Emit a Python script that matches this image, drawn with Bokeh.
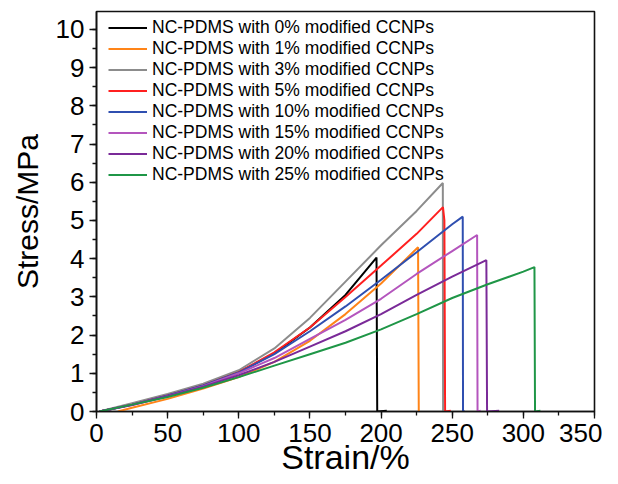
from bokeh.plotting import figure
from bokeh.models import Range1d, SingleIntervalTicker, Legend, LegendItem
from bokeh.embed import file_html
from bokeh.resources import INLINE

labels = ["NC-PDMS with 0% modified CCNPs", "NC-PDMS with 1% modified CCNPs",
          "NC-PDMS with 3% modified CCNPs", "NC-PDMS with 5% modified CCNPs",
          "NC-PDMS with 10% modified CCNPs", "NC-PDMS with 15% modified CCNPs",
          "NC-PDMS with 20% modified CCNPs", "NC-PDMS with 25% modified CCNPs"]
colors = ["#000000", "#ff8418", "#8c8c8c", "#ff2020", "#2f4fb0", "#b455bd", "#7a2a98", "#1f9647"]

strain_0 = [2, 10, 25, 50, 75, 100, 125, 150, 175, 196.8, 197.3, 204]
stress_0 = [0, 0.06, 0.18, 0.42, 0.68, 1.03, 1.52, 2.2, 3.05, 4.03, 0.0, 0.02]
strain_1 = [15, 25, 50, 75, 100, 125, 150, 175, 200, 226, 226.5, 227]
stress_1 = [0, 0.1, 0.33, 0.6, 0.9, 1.3, 1.85, 2.55, 3.35, 4.3, 0.0, 0.0]
strain_3 = [2, 25, 50, 75, 100, 125, 150, 175, 200, 225, 243.4, 243.6, 246]
stress_3 = [0, 0.22, 0.46, 0.73, 1.08, 1.65, 2.45, 3.4, 4.35, 5.25, 5.98, 0.0, 0.0]
strain_5 = [2, 25, 50, 75, 100, 125, 150, 175, 200, 225, 243.5, 244.5, 245, 249]
stress_5 = [0, 0.18, 0.42, 0.68, 1.03, 1.55, 2.2, 3.0, 3.82, 4.65, 5.35, 5.0, 0.0, 0.02]
strain_10 = [2, 25, 50, 75, 100, 125, 150, 175, 200, 225, 250, 257.4, 257.6, 259]
stress_10 = [0, 0.18, 0.42, 0.68, 1.02, 1.5, 2.1, 2.75, 3.45, 4.17, 4.9, 5.1, 0.0, 0.0]
strain_15 = [2, 25, 50, 75, 100, 125, 150, 175, 200, 225, 250, 267.5, 267.8, 270]
stress_15 = [0, 0.17, 0.4, 0.66, 1.0, 1.4, 1.9, 2.4, 2.95, 3.6, 4.2, 4.62, 0.0, 0.02]
strain_20 = [2, 25, 50, 75, 100, 125, 150, 175, 200, 225, 250, 274, 274.5, 283]
stress_20 = [0, 0.17, 0.4, 0.65, 0.95, 1.3, 1.7, 2.1, 2.55, 3.05, 3.53, 3.96, 0.0, 0.02]
strain_25 = [2, 25, 50, 75, 100, 125, 150, 175, 200, 225, 250, 275, 300, 307.8, 308.2, 312]
stress_25 = [0, 0.18, 0.38, 0.62, 0.9, 1.2, 1.5, 1.8, 2.15, 2.55, 2.97, 3.33, 3.66, 3.78, 0.0, 0.02]

strains = [strain_0, strain_1, strain_3, strain_5, strain_10, strain_15, strain_20, strain_25]
stresses = [stress_0, stress_1, stress_3, stress_5, stress_10, stress_15, stress_20, stress_25]

FONT = "Liberation Sans"

p = figure(width=602, height=482, output_backend="svg", toolbar_location=None,
           x_range=Range1d(0, 350), y_range=Range1d(0, 10.47),
           min_border_left=96, min_border_right=8, min_border_top=11, min_border_bottom=71)
p.background_fill_color = "white"
p.border_fill_color = "white"
p.grid.visible = False
p.outline_line_color = "#111111"
p.outline_line_width = 1.6

items = []
for xs, ys, c, lab in zip(strains, stresses, colors, labels):
    r = p.line(xs, ys, line_color=c, line_width=2)
    items.append(LegendItem(label=lab, renderers=[r]))

p.xaxis.ticker = SingleIntervalTicker(interval=50, num_minor_ticks=2)
p.yaxis.ticker = SingleIntervalTicker(interval=1, num_minor_ticks=2)
for ax in (p.xaxis[0], p.yaxis[0]):
    ax.axis_line_color = "#111111"
    ax.axis_line_width = 1.6
    ax.major_tick_line_color = "#111111"
    ax.minor_tick_line_color = "#111111"
    ax.major_tick_line_width = 1.3
    ax.minor_tick_line_width = 1.3
    ax.major_tick_out = 7
    ax.major_tick_in = 0
    ax.minor_tick_out = 4
    ax.minor_tick_in = 0
    ax.major_label_text_font = FONT
    ax.major_label_text_font_size = "26px"
    ax.major_label_text_color = "black"
    ax.axis_label_text_font = FONT
    ax.axis_label_text_font_style = "normal"
    ax.axis_label_text_color = "black"

p.xaxis.major_label_standoff = 5
p.yaxis.major_label_standoff = 5
p.xaxis.axis_label = "Strain/%"
p.xaxis.axis_label_text_font_size = "34px"
p.xaxis.axis_label_standoff = -7
p.yaxis.axis_label = "Stress/MPa"
p.yaxis.axis_label_text_font_size = "30px"
p.yaxis.axis_label_standoff = 9

legend = Legend(items=items, location=(12, 226))
legend.border_line_color = None
legend.background_fill_alpha = 0
legend.label_text_font = FONT
legend.label_text_font_size = "17.5px"
legend.label_text_color = "black"
legend.glyph_width = 39
legend.glyph_height = 21
legend.label_height = 21
legend.label_standoff = 5
legend.spacing = 0
legend.padding = 0
legend.margin = 0
p.add_layout(legend, "center")

open("out.html", "w").write(file_html(p, INLINE))
